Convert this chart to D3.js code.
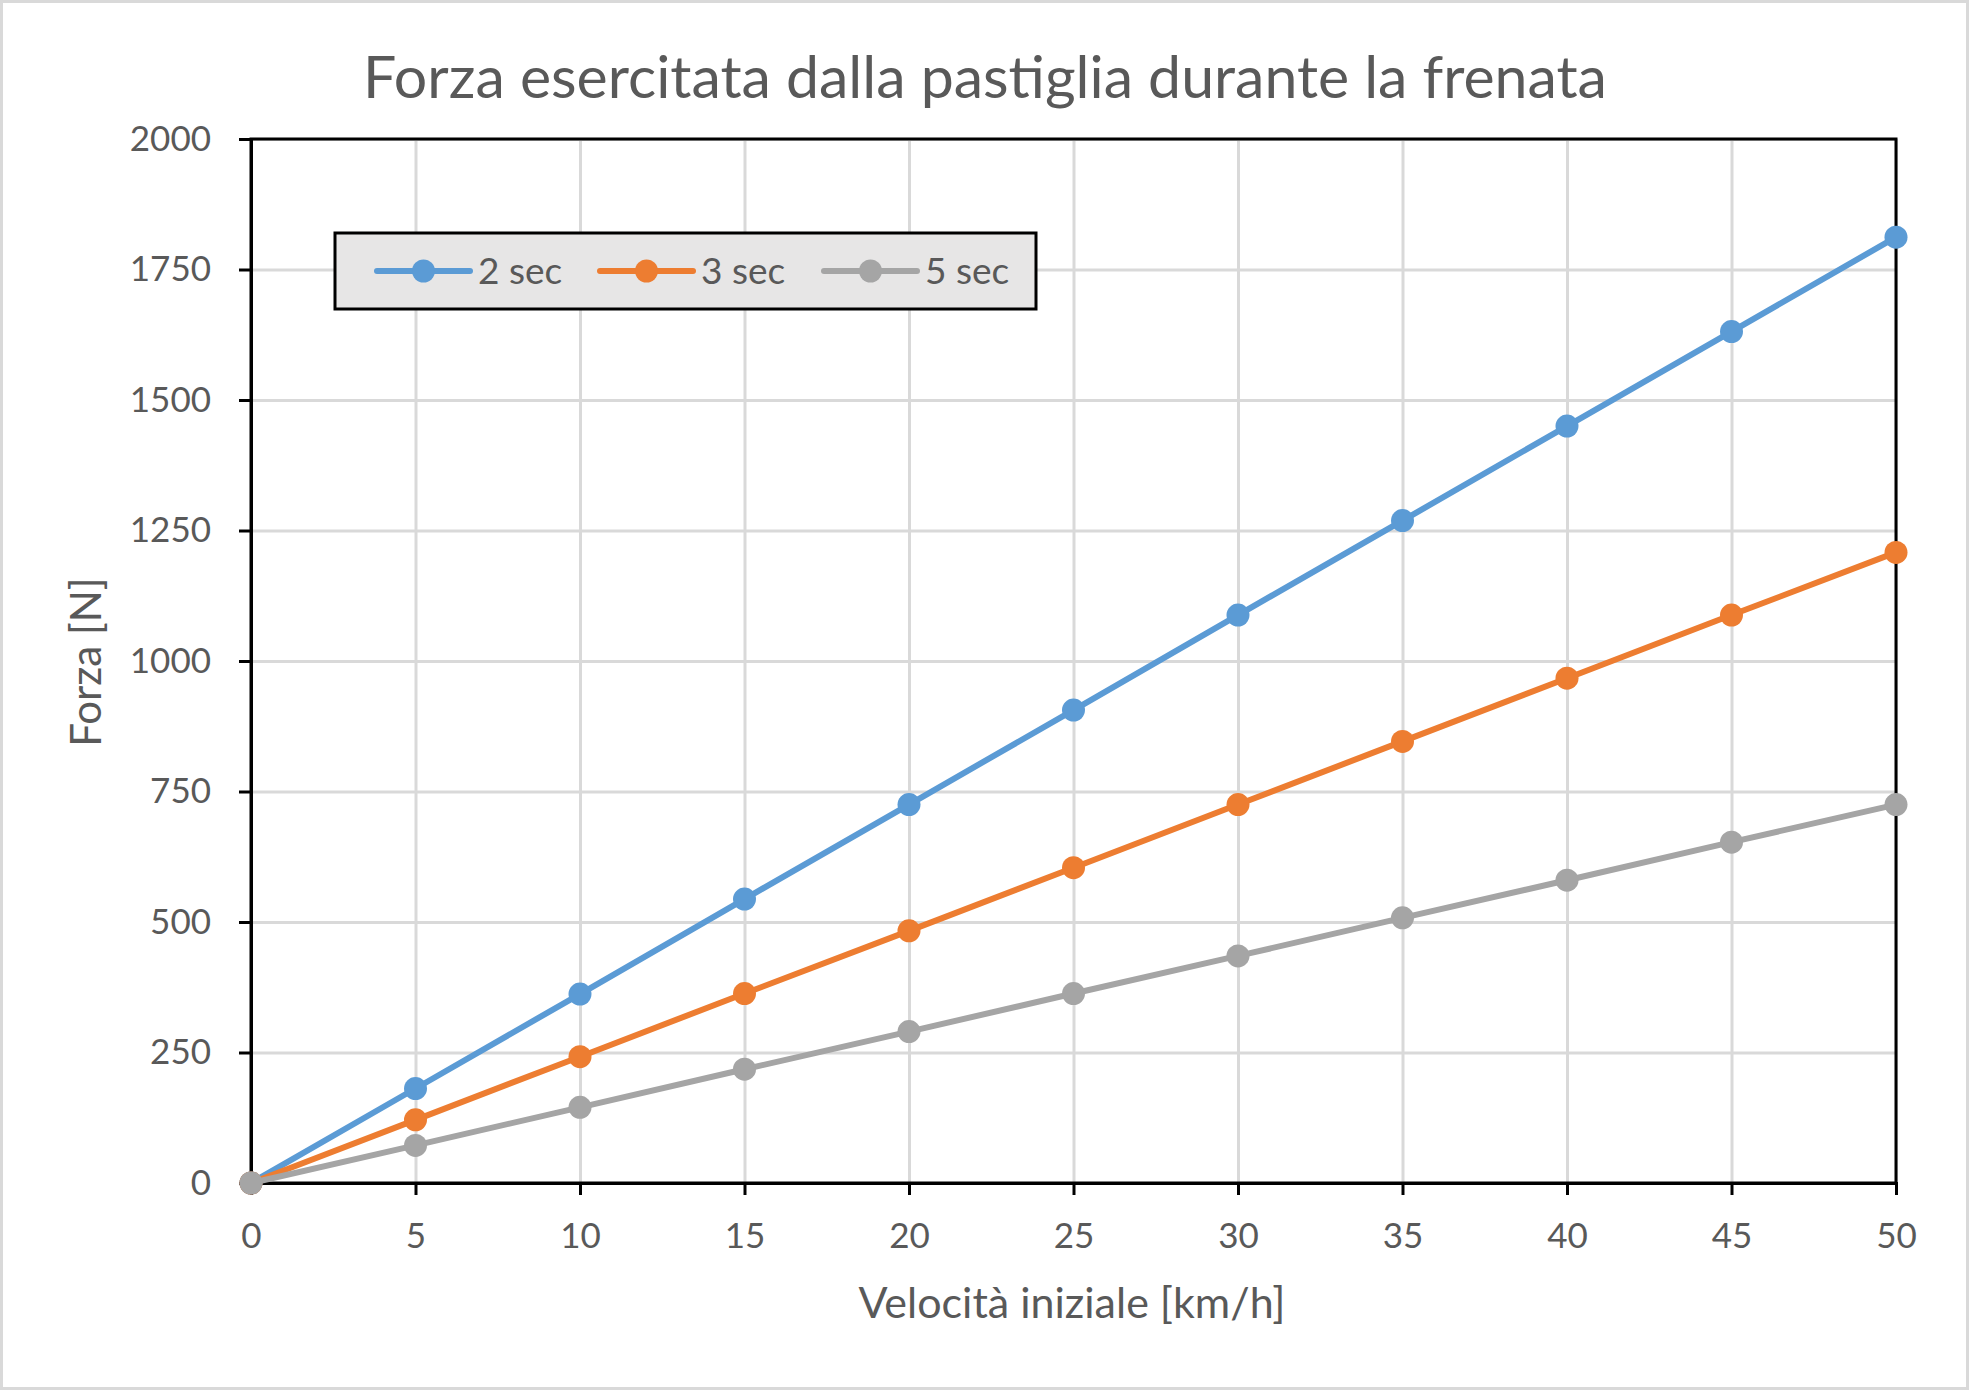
<!DOCTYPE html>
<html>
<head>
<meta charset="utf-8">
<script src="https://cdn.jsdelivr.net/npm/d3@7"></script>
<style>
  body { margin: 0; background: #fff; }
  svg { display: block; }
</style>
</head>
<body>
<div id="chart"></div>
<script>
var plotVariables = ({
    totalWidth: 1969,
    totalHeight: 1390,
    marginTop: 139,
    marginLeft: 251,
    width: 1896 - 251,
    height: 1183 - 139,
    font: 'Lato, "Open Sans", sans-serif',
    textColor: '#595959',
    gridColor: '#d9d9d9'
});

// chart data
var speeds = [0, 5, 10, 15, 20, 25, 30, 35, 40, 45, 50];
var xTicks = [0, 5, 10, 15, 20, 25, 30, 35, 40, 45, 50];
var yTicks = [0, 250, 500, 750, 1000, 1250, 1500, 1750, 2000];
var seriesNames = ["2 sec", "3 sec", "5 sec"];
var force2sec = [0, 181, 362, 544, 725, 906, 1088, 1269, 1450, 1631, 1812];
var force3sec = [0, 121, 242, 363, 483, 604, 725, 846, 967, 1088, 1208];
var force5sec = [0, 72, 145, 218, 290, 363, 435, 508, 580, 653, 725];
var seriesColors = ["#5b9bd5", "#ed7d31", "#a5a5a5"];

var series = [force2sec, force3sec, force5sec].map(function (vals, i) {
    return {
        name: seriesNames[i],
        color: seriesColors[i],
        points: speeds.map((s, j) => ({ x: s, y: vals[j] }))
    };
});

var svg = d3.select('#chart').append('svg')
    .attr('width', plotVariables.totalWidth)
    .attr('height', plotVariables.totalHeight);

// outer chart border
svg.append('rect')
    .attr('x', 1.5).attr('y', 1.5)
    .attr('width', plotVariables.totalWidth - 3)
    .attr('height', plotVariables.totalHeight - 3)
    .attr('fill', '#fff')
    .attr('stroke', plotVariables.gridColor)
    .attr('stroke-width', 3);

// title
svg.append('text')
    .attr('x', 985)
    .attr('y', 98)
    .attr('text-anchor', 'middle')
    .attr('font-family', plotVariables.font)
    .attr('font-size', '59px')
    .attr('fill', plotVariables.textColor)
    .text('Forza esercitata dalla pastiglia durante la frenata');

var x = d3.scaleLinear().domain([0, 50]).range([0, plotVariables.width]);
var y = d3.scaleLinear().domain([0, 2000]).range([plotVariables.height, 0]);

var plot = svg.append('g')
    .attr('transform', `translate(${plotVariables.marginLeft},${plotVariables.marginTop})`);

// gridlines
plot.append('g')
    .call(d3.axisLeft(y).tickValues(yTicks).tickSize(-plotVariables.width).tickFormat(''))
    .call(g => g.select('.domain').remove())
    .call(g => g.selectAll('line').attr('stroke', plotVariables.gridColor).attr('stroke-width', 3));
plot.append('g')
    .call(d3.axisBottom(x).tickValues(xTicks).tickSize(plotVariables.height).tickFormat(''))
    .call(g => g.select('.domain').remove())
    .call(g => g.selectAll('line').attr('stroke', plotVariables.gridColor).attr('stroke-width', 3));

// plot area box
plot.append('rect')
    .attr('width', plotVariables.width)
    .attr('height', plotVariables.height)
    .attr('fill', 'none')
    .attr('stroke', '#000')
    .attr('stroke-width', 3);

// axes
var yAxis = plot.append('g')
    .call(d3.axisLeft(y).tickValues(yTicks).tickSize(12).tickPadding(28).tickFormat(d3.format('d')));
var xAxis = plot.append('g')
    .attr('transform', `translate(0,${plotVariables.height})`)
    .call(d3.axisBottom(x).tickValues(xTicks).tickSize(12).tickPadding(28));
[yAxis, xAxis].forEach(function (ax) {
    ax.select('.domain').attr('stroke', '#000').attr('stroke-width', 3);
    ax.selectAll('.tick line').attr('stroke', '#000').attr('stroke-width', 3);
    ax.selectAll('.tick text')
        .attr('font-family', plotVariables.font)
        .attr('font-size', '35px')
        .attr('fill', plotVariables.textColor);
});

// axis titles
svg.append('text')
    .attr('transform', 'translate(101, 662) rotate(-90)')
    .attr('text-anchor', 'middle')
    .attr('font-family', plotVariables.font)
    .attr('font-size', '42px')
    .attr('fill', plotVariables.textColor)
    .text('Forza [N]');
svg.append('text')
    .attr('x', 1072)
    .attr('y', 1318)
    .attr('text-anchor', 'middle')
    .attr('font-family', plotVariables.font)
    .attr('font-size', '43px')
    .attr('fill', plotVariables.textColor)
    .text('Velocità iniziale [km/h]');

// series lines and markers
var line = d3.line().x(d => x(d.x)).y(d => y(d.y));
var seriesGroup = plot.selectAll('g.series')
    .data(series)
    .join('g')
    .attr('class', 'series');
seriesGroup.append('path')
    .attr('d', d => line(d.points))
    .attr('fill', 'none')
    .attr('stroke', d => d.color)
    .attr('stroke-width', 6)
    .attr('stroke-linejoin', 'round');
seriesGroup.selectAll('circle')
    .data(d => d.points.map(p => ({ x: p.x, y: p.y, color: d.color })))
    .join('circle')
    .attr('cx', d => x(d.x))
    .attr('cy', d => y(d.y))
    .attr('r', 11.5)
    .attr('fill', d => d.color);

// legend
var legendGroup = svg.append('g');
legendGroup.append('rect')
    .attr('x', 335).attr('y', 233)
    .attr('width', 701).attr('height', 76)
    .attr('fill', '#e7e6e6')
    .attr('stroke', '#000')
    .attr('stroke-width', 3);
var legendX = [377, 600, 824];
var legendItem = legendGroup.selectAll('g.legend')
    .data(series)
    .join('g')
    .attr('class', 'legend')
    .attr('transform', (d, i) => `translate(${legendX[i]}, 271)`);
legendItem.append('line')
    .attr('x1', 0).attr('x2', 93)
    .attr('stroke', d => d.color)
    .attr('stroke-width', 6)
    .attr('stroke-linecap', 'round');
legendItem.append('circle')
    .attr('cx', 46.5)
    .attr('r', 11.5)
    .attr('fill', d => d.color);
legendItem.append('text')
    .attr('x', 101)
    .attr('y', 13)
    .attr('font-family', plotVariables.font)
    .attr('font-size', '37px')
    .attr('fill', plotVariables.textColor)
    .text(d => d.name);
</script>
</body>
</html>
